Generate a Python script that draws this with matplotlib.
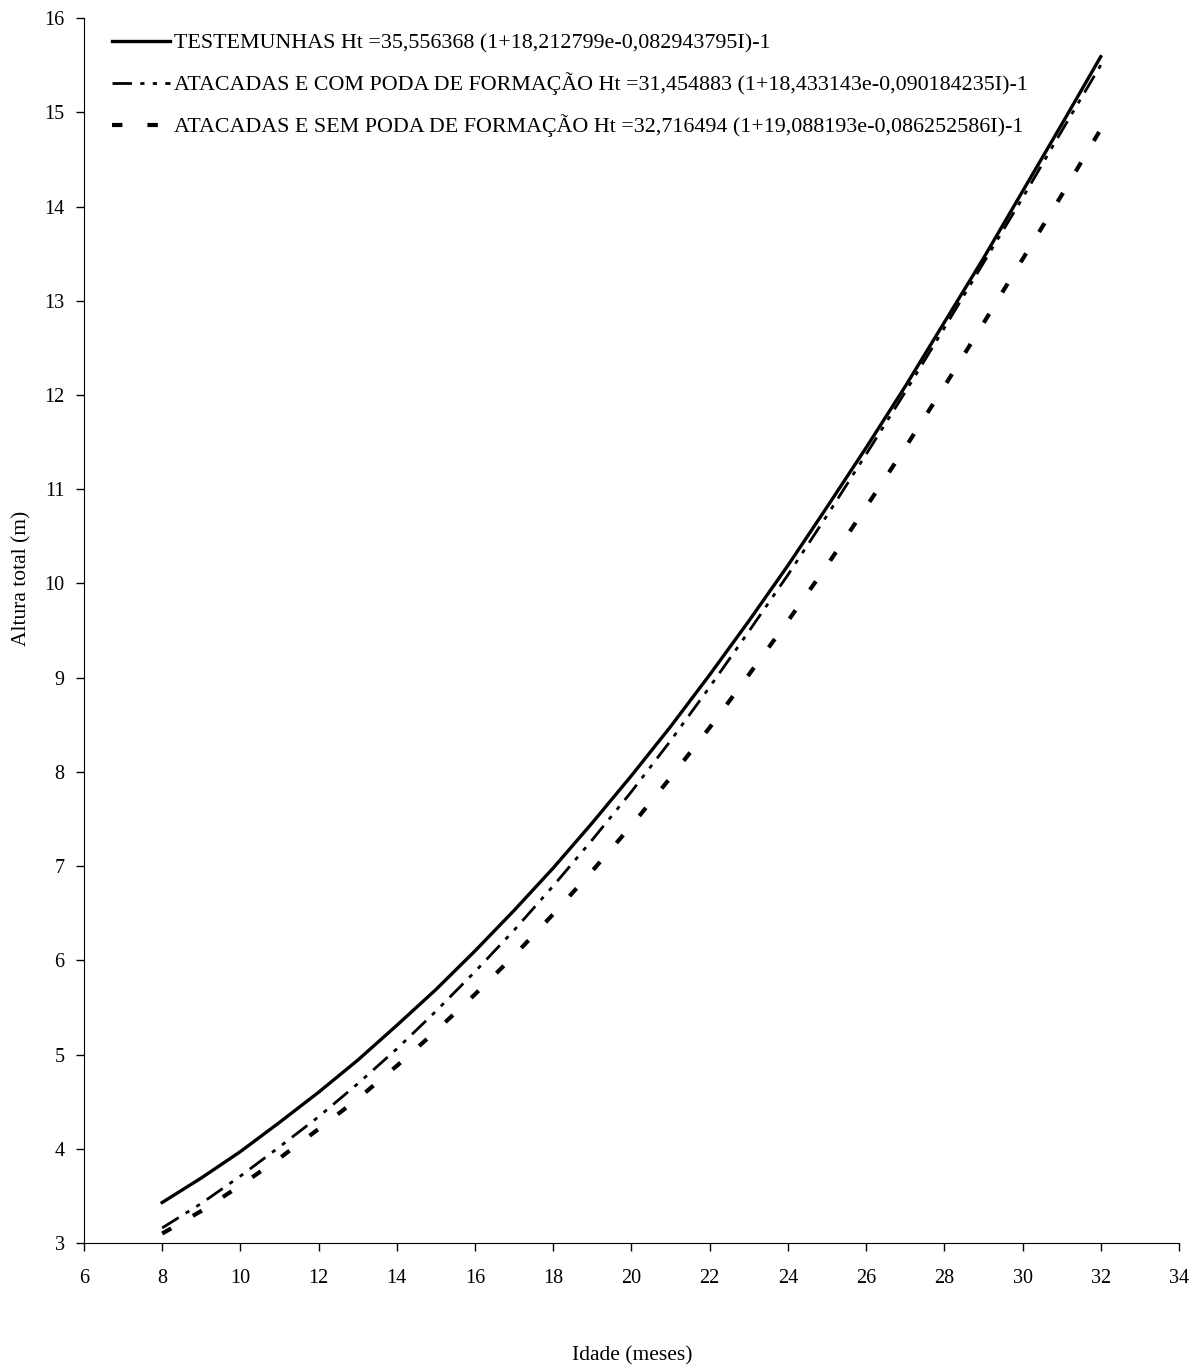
import matplotlib
matplotlib.use("Agg")
import matplotlib.pyplot as plt

plt.rcParams['font.family'] = ['Liberation Serif', 'DejaVu Serif']

# idade em meses
idade = list(range(8, 33))

# altura total (m)
testemunhas = [3.43, 3.69, 3.97, 4.28, 4.60, 4.94, 5.31, 5.69, 6.10, 6.53,
               6.98, 7.46, 7.96, 8.48, 9.03, 9.60, 10.19, 10.81, 11.44, 12.09,
               12.77, 13.45, 14.16, 14.87, 15.59]
com_poda = [3.16, 3.42, 3.71, 4.02, 4.34, 4.69, 5.06, 5.46, 5.88, 6.32,
            6.79, 7.28, 7.79, 8.33, 8.90, 9.49, 10.09, 10.72, 11.37, 12.03,
            12.71, 13.40, 14.09, 14.80, 15.50]
sem_poda = [3.10, 3.34, 3.61, 3.90, 4.21, 4.53, 4.88, 5.25, 5.64, 6.05,
            6.49, 6.95, 7.43, 7.94, 8.47, 9.03, 9.60, 10.19, 10.81, 11.44,
            12.09, 12.76, 13.44, 14.12, 14.82]

labels = [
    "TESTEMUNHAS Ht =35,556368 (1+18,212799e-0,082943795I)-1",
    "ATACADAS E COM PODA DE FORMAÇÃO Ht =31,454883 (1+18,433143e-0,090184235I)-1",
    "ATACADAS E SEM PODA DE FORMAÇÃO Ht =32,716494 (1+19,088193e-0,086252586I)-1",
]

fig = plt.figure(figsize=(12.03, 13.67), dpi=100)
ax = fig.add_axes([0.0698, 0.0907, 0.9102, 0.8961])

ax.plot(idade, testemunhas, color='black', lw=2.4, label=labels[0])
ax.plot(idade, com_poda, color='black', lw=2.0,
        linestyle=(0, (7, 3, 1.5, 3, 1.5, 3)), label=labels[1])
ax.plot(idade, sem_poda, color='black', lw=3.0,
        linestyle=(0, (2.5, 6)), gapcolor='white', label=labels[2])

ax.set_xlim(6, 34)
ax.set_ylim(3, 16)
ax.set_xticks(range(6, 35, 2))
ax.set_yticks(range(3, 17))

ax.spines['top'].set_visible(False)
ax.spines['right'].set_visible(False)
ax.tick_params(direction='out', length=6, width=1, labelsize=14.5)
ax.tick_params(axis='x', pad=13)
ax.tick_params(axis='y', pad=8)

fig.text(632 / 1203, 1 - 1356 / 1367, "Idade (meses)", fontsize=15.5,
         ha='center', va='center')
fig.text(22 / 1203, 1 - 578 / 1367, "Altura total (m)", fontsize=15.5,
         ha='center', va='center', rotation=90)

leg = ax.legend(loc='upper left', bbox_to_anchor=(0.008, 1.004), frameon=False,
                fontsize=15.8, handlelength=2.6, handletextpad=0.2,
                labelspacing=0.87)

fig.savefig("out.png", dpi=100)
